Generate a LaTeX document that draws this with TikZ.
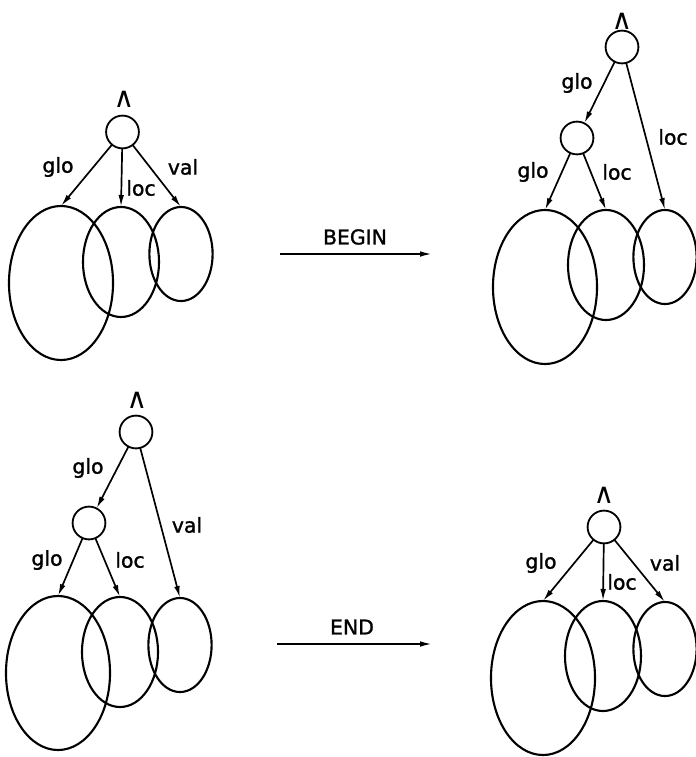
\documentclass[tikz,border=0pt]{standalone}
\usepackage{fontspec}
\setmainfont[FakeBold=1.3]{DejaVu Sans}
\newfontfamily\wedgefont{DejaVu Sans}
\usetikzlibrary{arrows.meta,shapes.geometric}

\begin{document}
\begin{tikzpicture}[x=0.025cm, y=-0.025cm]
\tikzset{ >={Latex[length=0.3cm,width=0.14cm]}, inner sep=0pt, outer sep=0pt,
  knot/.style={draw, circle, line width=1.3pt, minimum size=0.82cm},
  big/.style={draw, ellipse, line width=1.5pt, minimum width=2.6cm, minimum height=3.85cm},
  mid/.style={draw, ellipse, line width=1.5pt, minimum width=1.9cm, minimum height=2.75cm},
  small/.style={draw, ellipse, line width=1.5pt, minimum width=1.58cm, minimum height=2.35cm},
  lbl/.style={font=\fontsize{14.5}{17}\selectfont},
  wedge/.style={font=\wedgefont\fontsize{20}{24}\selectfont},
  edge/.style={->, line width=1.2pt},
}

\useasboundingbox (0,0) rectangle (696,757);

% top left
\node [knot]  (TLr) at (122.5,132) {};
\node [wedge] (TLw) at (124,99) {∧};
\node [big]   (TLa) at (61,283) {};
\node [mid]   (TLb) at (121,262) {};
\node [small] (TLc) at (181,254) {};

\draw [edge] (TLr) -- (TLa.north);
\draw [edge] (TLr) -- (TLb.north);
\draw [edge] (TLr) -- (TLc.north);

\node [lbl] (TLglo) at (58,167)  {glo};
\node [lbl] (TLloc) at (141,188) {loc};
\node [lbl] (TLval) at (183,167) {val};

% top right
\node [knot]  (TRr) at (622,47) {};
\node [wedge] (TRw) at (622,21) {∧};
\node [knot]  (TRs) at (577,138) {};
\node [big]   (TRa) at (545,287) {};
\node [mid]   (TRb) at (606,265) {};
\node [small] (TRc) at (665,257) {};

\draw [edge] (TRr) -- (TRs);
\draw [edge] (TRr) -- (TRc.north);
\draw [edge] (TRs) -- (TRa.north);
\draw [edge] (TRs) -- (TRb.north);

\node [lbl] (TRglo)  at (577,83)  {glo};
\node [lbl] (TRloc)  at (673,137) {loc};
\node [lbl] (TRglo2) at (533,172) {glo};
\node [lbl] (TRloc2) at (617,172) {loc};

% bottom left
\node [knot]  (BLr) at (136,432) {};
\node [wedge] (BLw) at (137,400) {∧};
\node [knot]  (BLs) at (89,523) {};
\node [big]   (BLa) at (58,673) {};
\node [mid]   (BLb) at (120,652) {};
\node [small] (BLc) at (180,645) {};

\draw [edge] (BLr) -- (BLs);
\draw [edge] (BLr) -- (BLc.north);
\draw [edge] (BLs) -- (BLa.north);
\draw [edge] (BLs) -- (BLb.north);

\node [lbl] (BLglo)  at (88,468)  {glo};
\node [lbl] (BLval)  at (187,525) {val};
\node [lbl] (BLglo2) at (47,560)  {glo};
\node [lbl] (BLloc)  at (130,560) {loc};

% bottom right
\node [knot]  (BRr) at (604,527) {};
\node [wedge] (BRw) at (604,495) {∧};
\node [big]   (BRa) at (543,678) {};
\node [mid]   (BRb) at (603,656) {};
\node [small] (BRc) at (665,649) {};

\draw [edge] (BRr) -- (BRa.north);
\draw [edge] (BRr) -- (BRb.north);
\draw [edge] (BRr) -- (BRc.north);

\node [lbl] (BRglo) at (541,563) {glo};
\node [lbl] (BRloc) at (622,582) {loc};
\node [lbl] (BRval) at (665,563) {val};

% transitions
\coordinate (B0) at (280,254);
\coordinate (B1) at (432,254);
\draw [edge] (B0) -- (B1);
\node [lbl] (begin) at (355,237) {BEGIN};

\coordinate (E0) at (277,644);
\coordinate (E1) at (432,644);
\draw [edge] (E0) -- (E1);
\node [lbl] (end) at (352,627) {END};
\end{tikzpicture}
\end{document}
